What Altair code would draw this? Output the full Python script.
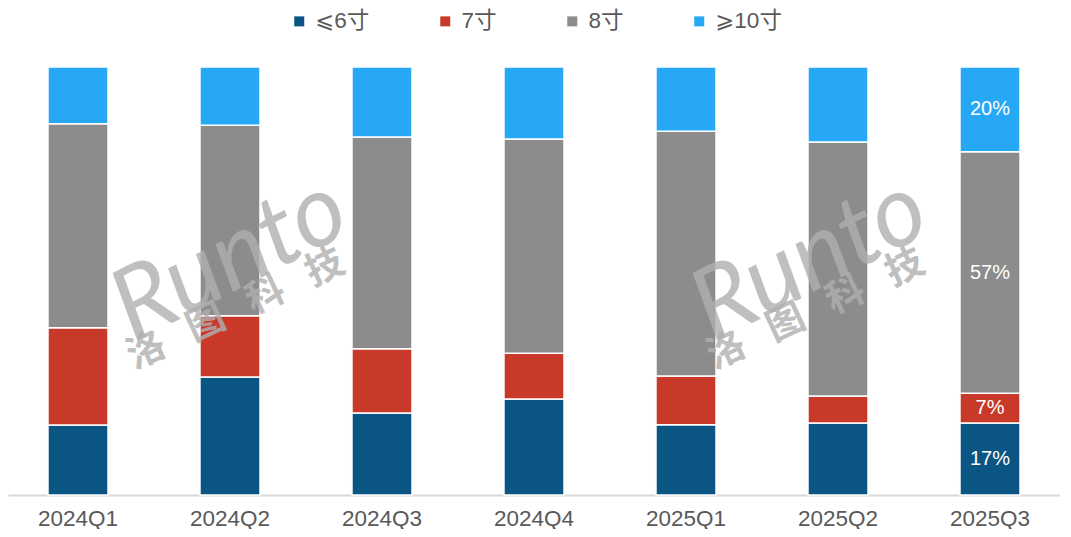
import altair as alt
import pandas as pd

quarters = ["2024Q1", "2024Q2", "2024Q3", "2024Q4", "2025Q1", "2025Q2", "2025Q3"]
series = ["⩽6寸", "7寸", "8寸", "⩾10寸"]
colors = ["#0A5584", "#C8392A", "#8C8C8C", "#27A8F5"]

s6 = [16.4, 27.6, 19.2, 22.4, 16.4, 16.8, 17]
s7 = [22.7, 14.3, 15.0, 10.7, 11.4, 6.3, 7]
s8 = [47.7, 44.6, 49.5, 50.0, 57.2, 59.3, 57]
s10 = [13.3, 13.6, 16.4, 16.8, 15.0, 17.5, 20]
labelled_quarter = "2025Q3"

rows = []
for si, (name, vals) in enumerate(zip(series, [s6, s7, s8, s10])):
    for q, v in zip(quarters, vals):
        rows.append({"quarter": q, "series": name, "idx": si, "value": v})
df = pd.DataFrame(rows)

FONT = "Liberation Sans, Arial, DejaVu Sans, Noto Sans CJK SC"

base = alt.Chart(df).transform_stack(
    stack="value",
    groupby=["quarter"],
    as_=["y0", "y1"],
    offset="normalize",
    sort=[alt.SortField("idx", order="ascending")],
)

x_enc = alt.X(
    "quarter:N",
    sort=quarters,
    scale=alt.Scale(paddingInner=0.605, paddingOuter=0.263),
    axis=alt.Axis(
        title=None,
        labelAngle=0,
        labelFontSize=22.5,
        labelFont=FONT,
        labelColor="#595959",
        labelPadding=12,
        domainColor="#D9D9D9",
        domainWidth=2,
        ticks=False,
        grid=False,
    ),
)

bars = base.mark_bar(stroke="white", strokeWidth=1.5).encode(
    x=x_enc,
    y=alt.Y("y0:Q", scale=alt.Scale(domain=[0, 1]), axis=None),
    y2="y1:Q",
    color=alt.Color(
        "series:N",
        scale=alt.Scale(domain=series, range=colors),
        legend=alt.Legend(
            title=None,
            orient="none",
            legendX=280,
            legendY=-57,
            direction="horizontal",
            symbolType="square",
            symbolSize=100,
            symbolStrokeWidth=0,
            labelFontSize=22.5,
            labelFont=FONT,
            labelColor="#595959",
            labelOffset=5,
            columnPadding=64,
        ),
    ),
)

labels = base.transform_filter(
    alt.datum.quarter == labelled_quarter
).transform_calculate(
    mid="(datum.y0 + datum.y1) / 2",
    label="format(datum.value, '.0f') + '%'",
).mark_text(
    color="white", fontSize=20, font="Liberation Sans Narrow, Arial Narrow, Liberation Sans"
).encode(
    x=alt.X("quarter:N", sort=quarters),
    y=alt.Y("mid:Q"),
    text="label:N",
)

wm_color = "#B0B0B0"
wm = []
for cx in [230, 810]:
    wm.append(
        alt.Chart(pd.DataFrame({"t": ["Runto"]})).mark_text(
            fontSize=100, font="Lato, DejaVu Sans", fontStyle="italic", fontWeight=400,
            color=wm_color, opacity=0.8, angle=333, align="center", baseline="middle",
        ).encode(x=alt.value(cx - 8), y=alt.value(260 - 67), text="t:N")
    )
    wm.append(
        alt.Chart(pd.DataFrame({"t": ["洛\u2002 图\u2002 科\u2002 技"]})).mark_text(
            fontSize=38, font="Noto Sans CJK SC", fontWeight="bold",
            color=wm_color, opacity=0.8, angle=335, align="center", baseline="middle",
        ).encode(x=alt.value(cx - 2), y=alt.value(310 - 67), text="t:N")
    )

chart = alt.layer(bars, labels, *wm).properties(
    width=1052,
    height=428,
    autosize=alt.AutoSizeParams(type="none"),
    padding={"left": 0, "top": 59, "right": 0, "bottom": 34},
).configure_view(stroke=None)

chart.save("out.html", embed_options={"renderer": "svg", "actions": False})
